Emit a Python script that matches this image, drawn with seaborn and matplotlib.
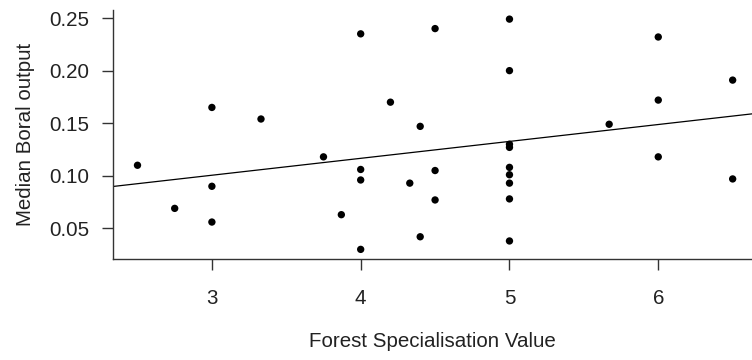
import matplotlib
matplotlib.use("Agg")
import matplotlib.pyplot as plt
import seaborn as sns
import pandas as pd
import numpy as np

forest_spec = [2.5, 2.75, 3, 3, 3, 3.33, 3.75, 3.87, 4, 4, 4, 4, 4.2, 4.33, 4.4, 4.4,
               4.5, 4.5, 4.5, 5, 5, 5, 5, 5, 5, 5, 5, 5, 5.67, 6, 6, 6, 6.5, 6.5]
boral_output = [0.110, 0.069, 0.165, 0.090, 0.056, 0.154, 0.118, 0.063, 0.235, 0.106, 0.096, 0.030,
                0.170, 0.093, 0.147, 0.042, 0.240, 0.105, 0.077, 0.249, 0.200, 0.130, 0.127,
                0.108, 0.101, 0.093, 0.078, 0.038, 0.149, 0.232, 0.172, 0.118, 0.191, 0.097]
x_ticks = [3, 4, 5, 6]
y_ticks = [0.05, 0.10, 0.15, 0.20, 0.25]
x_label = "Forest Specialisation Value"
y_label = "Median Boral output"

df = pd.DataFrame({"x": forest_spec, "y": boral_output})

sns.set_style("ticks")
plt.rcParams["font.family"] = ["Liberation Sans", "DejaVu Sans"]

fig = plt.figure(figsize=(7.52, 3.6), dpi=100)
ax = fig.add_axes([0.150, 0.281, 0.85, 0.691])
xlim = (2.334, 6.63)
ylim = (0.021, 0.2576)
ax.set_xlim(xlim)
ax.set_ylim(ylim)
sns.regplot(data=df, x="x", y="y", ax=ax, ci=None, truncate=False,
            scatter_kws=dict(s=28, color="black", edgecolor="none", alpha=1),
            line_kws=dict(color="black", lw=0.9))
ax.set_xlim(xlim)
ax.set_ylim(ylim)

ax.set_xticks(x_ticks)
ax.set_xticklabels([str(t) for t in x_ticks])
ax.set_yticks(y_ticks)
ax.set_yticklabels([f"{t:.2f}" for t in y_ticks])
fs = 14.8
ax.tick_params(axis="both", length=8, width=1, color="#333333", labelsize=fs,
               labelcolor="#222222", pad=9)
ax.tick_params(axis="x", pad=14)
ax.set_xlabel(x_label, fontsize=fs, color="#222222", labelpad=17)
ax.set_ylabel(y_label, fontsize=fs, color="#222222", labelpad=10)
for s in ["top", "right"]:
    ax.spines[s].set_visible(False)
for s in ["left", "bottom"]:
    ax.spines[s].set_color("#333333")
    ax.spines[s].set_linewidth(1)

fig.savefig("out.png", dpi=100)
